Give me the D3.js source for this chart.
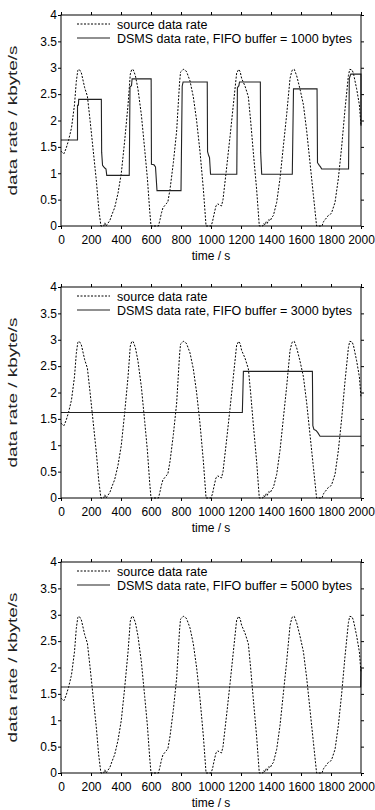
<!DOCTYPE html>
<html>
<head>
<meta charset="utf-8">
<script src="https://cdn.jsdelivr.net/npm/d3@7"></script>
<style>
  body { margin: 0; background: #fff; }
  svg text { font-family: "Liberation Sans", Arial, Helvetica, sans-serif; fill: #000; }
</style>
</head>
<body>
<div id="chart"></div>
<script>
// source data rate (same in all three panels), time in s, rate in kbyte/s
var srcTime = [0, 10, 20, 35, 50, 70, 90, 102, 112, 122, 136, 158, 176, 192, 213, 236, 251, 266,
  285, 292, 300, 312, 325, 340, 358, 380, 402, 424, 447, 462, 472, 482, 496, 513, 536, 558, 576, 591, 600,
  650, 660, 670, 680, 690, 700, 712, 727, 749, 771, 790, 797, 815, 830, 838, 860, 882, 904, 927, 949, 967,
  1000, 1010, 1020, 1033, 1045, 1055, 1070, 1080, 1090, 1104, 1127, 1149, 1171, 1185, 1195, 1204, 1227, 1249, 1264, 1282, 1304, 1322,
  1345, 1352, 1360, 1368, 1375, 1385, 1395, 1405, 1416, 1438, 1460, 1482, 1504, 1527, 1540, 1555, 1571, 1593, 1616, 1638, 1660, 1682, 1704,
  1740, 1750, 1760, 1772, 1782, 1795, 1804, 1827, 1849, 1871, 1893, 1916, 1925, 1940, 1949, 1971, 1989, 2000];
var srcRate = [1.42, 1.39, 1.37, 1.48, 1.62, 1.86, 2.30, 2.74, 2.95, 2.97, 2.90, 2.62, 2.46, 2.05, 1.48, 0.85, 0.35, 0.0,
  0.0, 0.06, 0.0, 0.05, 0.10, 0.22, 0.35, 0.62, 1.0, 1.6, 2.3, 2.88, 2.97, 2.96, 2.85, 2.6, 2.1, 1.45, 0.9, 0.3, 0.0,
  0.0, 0.12, 0.25, 0.35, 0.38, 0.42, 0.45, 0.7, 1.2, 1.8, 2.7, 2.92, 2.97, 2.95, 2.92, 2.75, 2.45, 2.0, 1.4, 0.7, 0.0,
  0.0, 0.08, 0.22, 0.38, 0.42, 0.40, 0.38, 0.5, 0.75, 1.1, 1.7, 2.3, 2.9, 2.97, 2.92, 2.8, 2.65, 2.45, 2.0, 1.4, 0.7, 0.0,
  0.0, 0.05, 0.02, 0.08, 0.05, 0.12, 0.10, 0.16, 0.2, 0.45, 0.9, 1.5, 2.1, 2.8, 2.95, 2.97, 2.85, 2.6, 2.3, 1.8, 1.2, 0.6, 0.0,
  0.0, 0.08, 0.12, 0.16, 0.2, 0.22, 0.25, 0.45, 0.9, 1.5, 2.2, 2.85, 2.97, 2.96, 2.9, 2.6, 2.3, 1.9];

// DSMS data rate, FIFO buffer = 1000 bytes
var dsms1Time = [0, 110, 110, 116, 118, 269, 271, 277, 285, 292, 300, 305, 455, 460, 470, 474, 601, 603, 620, 630, 640, 800, 808, 814, 975, 977, 985, 990, 997,
  1172, 1176, 1186, 1190, 1329, 1331, 1338, 1542, 1550, 1707, 1710, 1722, 1730, 1738, 1917, 1922, 1932, 2000, 2000];
var dsms1Rate = [1.63, 1.63, 2.29, 2.29, 2.40, 2.40, 1.40, 1.15, 1.12, 1.10, 1.08, 0.96, 0.96, 2.64, 2.66, 2.79, 2.79, 1.17, 1.16, 1.12, 0.67, 0.67, 2.65, 2.73, 2.73, 1.41, 1.33, 1.30, 0.98,
  0.98, 2.62, 2.66, 2.73, 2.73, 1.40, 0.98, 0.98, 2.60, 2.60, 1.20, 1.15, 1.12, 1.08, 1.08, 2.80, 2.88, 2.88, 1.90];

// DSMS data rate, FIFO buffer = 3000 bytes
var dsms2Time = [0, 1209, 1216, 1676, 1679, 1686, 1700, 1712, 1727, 2000];
var dsms2Rate = [1.62, 1.62, 2.40, 2.40, 1.37, 1.30, 1.28, 1.24, 1.17, 1.17];

// DSMS data rate, FIFO buffer = 5000 bytes
var dsms3Time = [0, 1998, 2000];
var dsms3Rate = [1.63, 1.63, 2.0];

var bufferSizes = ["1000", "3000", "5000"];
var xTicks = [0, 200, 400, 600, 800, 1000, 1200, 1400, 1600, 1800, 2000];
var yTicks = [0, 0.5, 1, 1.5, 2, 2.5, 3, 3.5, 4];

var W = 375, H = 810;
var left = 61, right = 361;
var panelTops = [15, 287, 562];
var panelH = 211;

var svg = d3.select("#chart").append("svg")
    .attr("width", W)
    .attr("height", H);

var x = d3.scaleLinear().domain([0, 2000]).range([left, right]);

function toPoints(t, v) {
    return t.map(function(d, i) { return [d, v[i]]; });
}

var srcPoints = toPoints(srcTime, srcRate);
var dsmsPoints = [toPoints(dsms1Time, dsms1Rate), toPoints(dsms2Time, dsms2Rate), toPoints(dsms3Time, dsms3Rate)];

panelTops.forEach(function(top, k) {
    var y = d3.scaleLinear().domain([0, 4]).range([top + panelH, top]);
    var g = svg.append("g");

    var line = d3.line()
        .x(function(d) { return x(d[0]); })
        .y(function(d) { return y(d[1]); });

    // axes, ticks pointing outward on all four sides
    g.append("g")
        .attr("transform", "translate(0," + (top + panelH) + ")")
        .call(d3.axisBottom(x).tickValues(xTicks).tickSize(3).tickSizeOuter(0).tickPadding(6)
            .tickFormat(function(d) { return String(d); }))
        .call(function(a) { a.select(".domain").remove(); });
    g.append("g")
        .attr("transform", "translate(0," + top + ")")
        .call(d3.axisTop(x).tickValues(xTicks).tickSize(3).tickSizeOuter(0).tickFormat(""))
        .call(function(a) { a.select(".domain").remove(); });
    g.append("g")
        .attr("transform", "translate(" + left + ",0)")
        .call(d3.axisLeft(y).tickValues(yTicks).tickSize(3).tickSizeOuter(0).tickPadding(1)
            .tickFormat(function(d) { return String(d); }))
        .call(function(a) { a.select(".domain").remove(); });
    g.append("g")
        .attr("transform", "translate(" + right + ",0)")
        .call(d3.axisRight(y).tickValues(yTicks).tickSize(3).tickSizeOuter(0).tickFormat(""))
        .call(function(a) { a.select(".domain").remove(); });

    g.selectAll(".tick text")
        .style("font-size", "12px")
        .style("font-family", "'Liberation Sans', Arial, sans-serif");

    // series
    g.append("path")
        .datum(srcPoints)
        .attr("d", line)
        .style("fill", "none")
        .style("stroke", "#000")
        .style("stroke-width", 1)
        .style("stroke-dasharray", "2,1.5");

    g.append("path")
        .datum(dsmsPoints[k])
        .attr("d", line)
        .style("fill", "none")
        .style("stroke", "#222")
        .style("stroke-width", 1.1);

    // frame
    g.append("rect")
        .attr("x", left)
        .attr("y", top)
        .attr("width", right - left)
        .attr("height", panelH)
        .style("fill", "none")
        .style("stroke", "#000")
        .style("stroke-width", 1);

    // legend
    var ly1 = top + 9, ly2 = top + 23;
    g.append("line").attr("x1", 77).attr("x2", 110).attr("y1", ly1).attr("y2", ly1)
        .style("stroke", "#000").style("stroke-dasharray", "2,1.5");
    g.append("line").attr("x1", 77).attr("x2", 110).attr("y1", ly2).attr("y2", ly2)
        .style("stroke", "#222").style("stroke-width", 1.1);
    g.append("text").attr("x", 117).attr("y", ly1 + 4.5)
        .style("font-size", "12.5px").text("source data rate");
    g.append("text").attr("x", 117).attr("y", ly2 + 4.5)
        .style("font-size", "12.5px").text("DSMS data rate, FIFO buffer = " + bufferSizes[k] + " bytes");

    // axis labels
    g.append("text")
        .attr("x", (left + right) / 2)
        .attr("y", top + panelH + 34)
        .attr("text-anchor", "middle")
        .style("font-size", "12px")
        .text("time / s");
    g.append("text")
        .attr("transform", "translate(17," + (top + panelH / 2) + ") rotate(-90)")
        .attr("text-anchor", "middle")
        .attr("textLength", 150)
        .attr("lengthAdjust", "spacingAndGlyphs")
        .style("font-size", "13.5px")
        .style("fill", "#222")
        .text("data rate / kbyte/s");
});
</script>
</body>
</html>
